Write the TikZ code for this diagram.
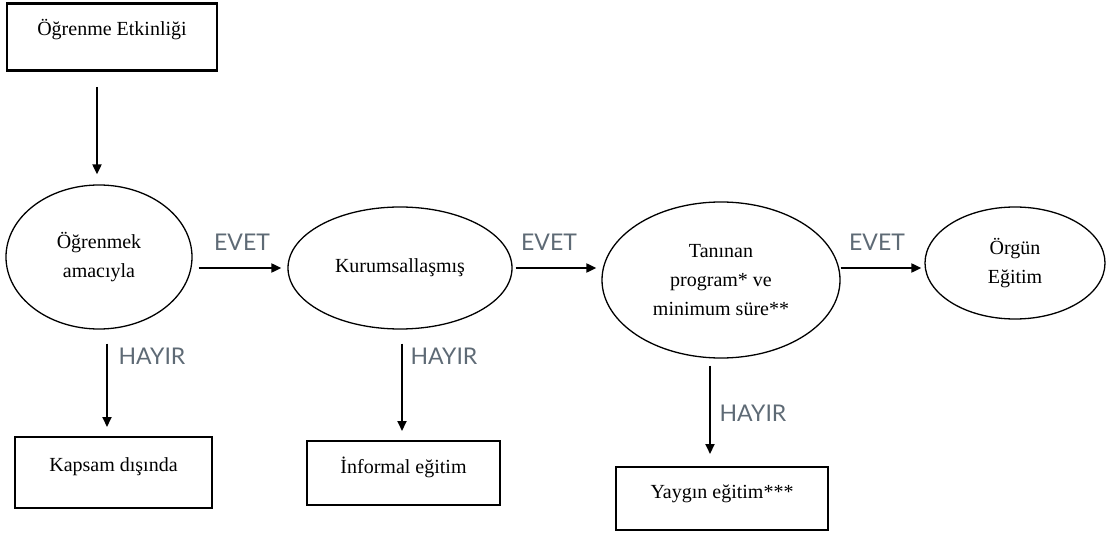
\documentclass[tikz,border=0pt]{standalone}
\usepackage{fontspec}
\setmainfont{Liberation Serif}
\newfontfamily\labelfont{Lato}
\usetikzlibrary{shapes.geometric,arrows.meta}
\definecolor{lblcol}{HTML}{5E6A75}
\begin{document}
\begin{tikzpicture}[x=1pt,y=-1pt,
  box/.style={draw, line width=2pt, rectangle, inner sep=0pt, font=\fontsize{20}{24}\selectfont, text height=14pt},
  oval/.style={draw, line width=1.3pt, ellipse, inner sep=0pt, align=center, font=\fontsize{20}{29}\selectfont},
  arr/.style={line width=2pt, -{Triangle[length=10pt,width=9pt]}},
  lbl/.style={font=\labelfont\fontsize{23}{23}\selectfont, text=lblcol, inner sep=0pt}]
\useasboundingbox (0,0) rectangle (1110,534);
% boxes
\node[box, line width=2.6pt, minimum width=210pt, minimum height=67pt, text depth=16pt] (top) at (112,37) {Öğrenme Etkinliği};
\node[box, minimum width=197pt, minimum height=71pt, text depth=17pt] (kap) at (113.5,472.5) {Kapsam dışında};
\node[box, minimum width=193pt, minimum height=64pt, text depth=14pt] (inf) at (403.5,473) {İnformal eğitim};
\node[box, minimum width=212pt, minimum height=63pt, text depth=14pt] (yay) at (722,498.5) {Yaygın eğitim***};
% ellipses
\node[oval, minimum width=186pt, minimum height=144pt] (e1) at (99,257) {Öğrenmek\\amacıyla};
\node[oval, minimum width=224pt, minimum height=122pt] (e2) at (400,268) {Kurumsallaşmış};
\node[oval, minimum width=238pt, minimum height=156pt] (e3) at (721,280) {Tanınan\\program* ve\\minimum süre**};
\node[oval, minimum width=180pt, minimum height=112pt] (e4) at (1015,263) {Örgün\\Eğitim};
% vertical arrows
\coordinate (t1) at ([xshift=-15pt,yshift=-15pt]top.south);
\draw[arr, shorten >=10pt] (t1) -- (t1 |- e1.north);
\coordinate (h1) at ([xshift=8pt,yshift=-14pt]e1.south);
\draw[arr, shorten >=9pt] (h1) -- (h1 |- kap.north);
\coordinate (h2) at ([xshift=2pt,yshift=-14pt]e2.south);
\draw[arr, shorten >=9pt] (h2) -- (h2 |- inf.north);
\coordinate (h3) at ([xshift=-11pt,yshift=-7pt]e3.south);
\draw[arr, shorten >=12pt] (h3) -- (h3 |- yay.north);
% horizontal arrows
\draw[arr, shorten <=6pt, shorten >=6pt] (e1.east |- e2.center) -- (e2.west);
\draw[arr, shorten <=3pt, shorten >=5pt] (e2.east) -- (e3.west |- e2.east);
\draw[arr, shorten >=3pt] (e3.east |- e2.center) -- (e4.west |- e2.center);
% labels
\node[lbl] (l1) at (242,242) {EVET};
\node[lbl] (l2) at (549,242) {EVET};
\node[lbl] (l3) at (877,242) {EVET};
\node[lbl] (l4) at (152,356) {HAYIR};
\node[lbl] (l5) at (444,356) {HAYIR};
\node[lbl] (l6) at (753,413) {HAYIR};
\end{tikzpicture}
\end{document}
